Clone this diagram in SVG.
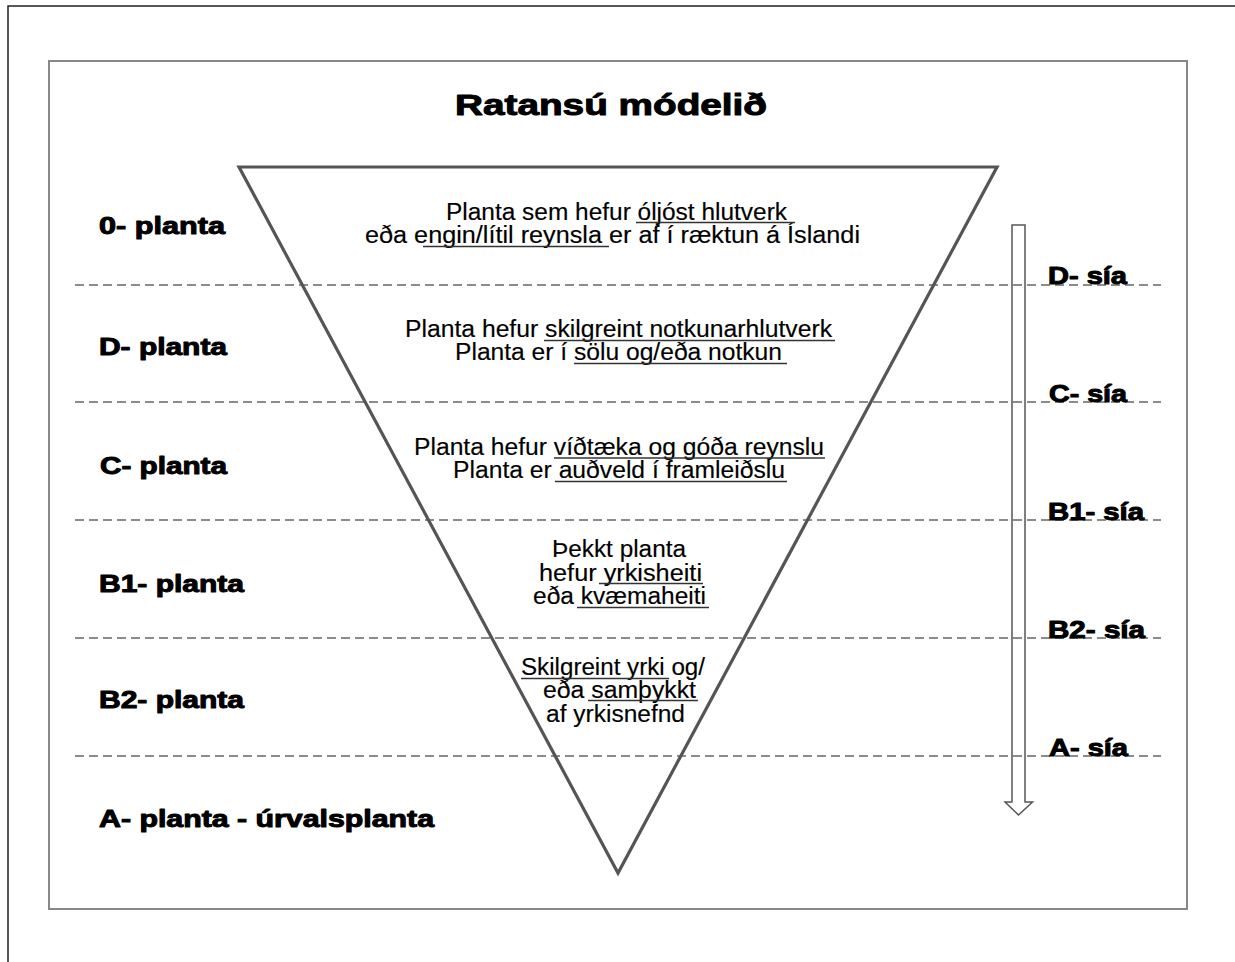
<svg xmlns="http://www.w3.org/2000/svg" width="1235" height="962" viewBox="0 0 1235 962">
<style>
.hv{font-family:"Liberation Sans",Arial,sans-serif;font-weight:bold;fill:#000;stroke:#000;stroke-width:1;stroke-linejoin:round}
.lbl{font-size:24px}
.flt{font-size:24px}
.body{font-family:"Liberation Sans",Arial,sans-serif;font-size:23px;fill:#000;stroke:#000;stroke-width:0.15}
.ul{stroke:#333;stroke-width:1.4}
.dash{stroke:#666;stroke-width:1.5;stroke-dasharray:9 5;fill:none}
</style>
<rect x="8" y="6" width="1300" height="1000" fill="#fff" stroke="#222" stroke-width="1.5"/>
<rect x="49" y="61" width="1138" height="848" fill="#fff" stroke="#888" stroke-width="2"/>
<g id="title"><text class="hv" x="455" y="115" font-size="30" textLength="312" lengthAdjust="spacingAndGlyphs">Ratansú módelið</text></g>
<g id="connectors">
<line class="dash" x1="75" y1="285" x2="1161" y2="285"/>
<line class="dash" x1="75" y1="402" x2="1161" y2="402"/>
<line class="dash" x1="75" y1="520" x2="1161" y2="520"/>
<line class="dash" x1="75" y1="638" x2="1161" y2="638"/>
<line class="dash" x1="75" y1="756" x2="1161" y2="756"/>
<path id="arrow" d="M1012,225 H1025 V802 H1032.5 L1018.5,815 L1005,802 H1012 Z" fill="none" stroke="#555" stroke-width="1.5" stroke-linejoin="miter"/>
</g>
<g id="triangle"><path d="M239,167 L997,167 L618,873 Z" fill="none" stroke="#555" stroke-width="3.2" stroke-linejoin="miter"/></g>
<g id="levels">
<text class="hv lbl" x="99" y="234" textLength="126" lengthAdjust="spacingAndGlyphs">0- planta</text>
<text class="hv lbl" x="99" y="355" textLength="128" lengthAdjust="spacingAndGlyphs">D- planta</text>
<text class="hv lbl" x="100" y="474" textLength="127" lengthAdjust="spacingAndGlyphs">C- planta</text>
<text class="hv lbl" x="99" y="592" textLength="145" lengthAdjust="spacingAndGlyphs">B1- planta</text>
<text class="hv lbl" x="99" y="708" textLength="145" lengthAdjust="spacingAndGlyphs">B2- planta</text>
<text class="hv lbl" x="99" y="827" textLength="335" lengthAdjust="spacingAndGlyphs">A- planta - úrvalsplanta</text>
</g>
<g id="filters">
<text class="hv flt" x="1048" y="284" textLength="79" lengthAdjust="spacingAndGlyphs">D- sía</text>
<text class="hv flt" x="1049" y="402" textLength="78" lengthAdjust="spacingAndGlyphs">C- sía</text>
<text class="hv flt" x="1048" y="520" textLength="96" lengthAdjust="spacingAndGlyphs">B1- sía</text>
<text class="hv flt" x="1048" y="638" textLength="97" lengthAdjust="spacingAndGlyphs">B2- sía</text>
<text class="hv flt" x="1049" y="756" textLength="79" lengthAdjust="spacingAndGlyphs">A- sía</text>
</g>
<g id="desc-0">
<text class="body" x="446" y="220" textLength="341" lengthAdjust="spacingAndGlyphs">Planta sem hefur óljóst hlutverk</text>
<text class="body" x="365" y="243" textLength="495" lengthAdjust="spacingAndGlyphs">eða engin/lítil reynsla er af í ræktun á Íslandi</text>
<line class="ul" x1="636" y1="222.5" x2="795" y2="222.5"/>
<line class="ul" x1="423" y1="246.5" x2="609" y2="246.5"/>
</g>
<g id="desc-D">
<text class="body" x="405" y="337" textLength="427" lengthAdjust="spacingAndGlyphs">Planta hefur skilgreint notkunarhlutverk</text>
<text class="body" x="455" y="360" textLength="327" lengthAdjust="spacingAndGlyphs">Planta er í sölu og/eða notkun</text>
<line class="ul" x1="544" y1="340.5" x2="835" y2="340.5"/>
<line class="ul" x1="574" y1="363.5" x2="787" y2="363.5"/>
</g>
<g id="desc-C">
<text class="body" x="414" y="455" textLength="410" lengthAdjust="spacingAndGlyphs">Planta hefur víðtæka og góða reynslu</text>
<text class="body" x="453" y="478" textLength="332" lengthAdjust="spacingAndGlyphs">Planta er auðveld í framleiðslu</text>
<line class="ul" x1="554" y1="458" x2="825" y2="458"/>
<line class="ul" x1="555" y1="481.5" x2="787" y2="481.5"/>
</g>
<g id="desc-B1">
<text class="body" x="552" y="557" textLength="134" lengthAdjust="spacingAndGlyphs">Þekkt planta</text>
<text class="body" x="539" y="581" textLength="163" lengthAdjust="spacingAndGlyphs">hefur yrkisheiti</text>
<text class="body" x="533" y="604" textLength="173" lengthAdjust="spacingAndGlyphs">eða kvæmaheiti</text>
<line class="ul" x1="599" y1="583.5" x2="703" y2="583.5"/>
<line class="ul" x1="577" y1="607.5" x2="709" y2="607.5"/>
</g>
<g id="desc-B2">
<text class="body" x="521" y="675" textLength="184" lengthAdjust="spacingAndGlyphs">Skilgreint yrki og/</text>
<text class="body" x="543" y="698" textLength="153" lengthAdjust="spacingAndGlyphs">eða samþykkt</text>
<text class="body" x="546" y="722" textLength="139" lengthAdjust="spacingAndGlyphs">af yrkisnefnd</text>
<line class="ul" x1="521" y1="678.5" x2="669" y2="678.5"/>
<line class="ul" x1="588" y1="700.5" x2="698" y2="700.5"/>
</g>
</svg>
